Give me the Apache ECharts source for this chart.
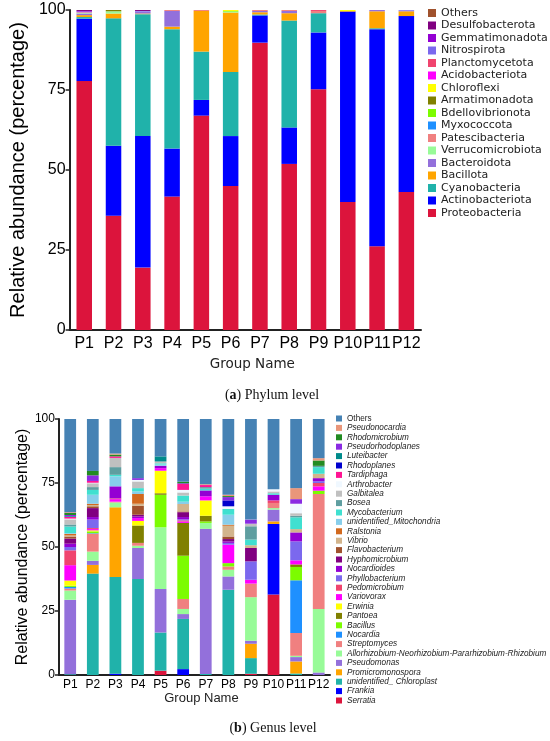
<!DOCTYPE html>
<html>
<head>
<meta charset="utf-8">
<script src="https://cdn.jsdelivr.net/npm/echarts@6/dist/echarts.min.js"></script>
<style>
html,body{margin:0;padding:0;background:#fff;}
#main{width:550px;height:741px;}
</style>
</head>
<body>
<div id="main"></div>
<script>
var groups = ['P1','P2','P3','P4','P5','P6','P7','P8','P9','P10','P11','P12'];
var yTicks = [0, 25, 50, 75, 100];

// phylum level, P1..P12 (percentage)
var proteobacteria    = [77.8,35.7,19.5,41.7,67.0,45.0,89.8,51.9,75.2,40.0,26.2,43.1];
var actinobacteriota  = [19.5,21.9,41.1,15.0,4.9,15.6,8.5,11.4,17.8,59.5,67.8,55.0];
var cyanobacteria     = [0.5,39.8,38.1,37.3,15.1,20.0,0.3,33.4,6.0,0,0.3,0];
var bacillota         = [0.6,1.5,0.2,0.8,12.7,18.6,0.7,2.3,0,0.2,5.3,1.5];
var bacteroidota      = [0.5,0,0.6,4.9,0,0,0.4,0.7,0,0,0.4,0.2];
var verrucomicrobiota = [0.2,0.7,0,0,0,0.3,0,0,0,0,0,0];
var patescibacteria   = [0.2,0,0,0.3,0.3,0,0.3,0.3,0.7,0,0,0];
var myxococcota       = [0,0,0,0,0,0,0,0,0,0,0,0];
var bdellovibrionota  = [0,0,0,0,0,0.2,0,0,0,0,0,0];
var armatimonadota    = [0,0.4,0,0,0,0,0,0,0,0,0,0];
var chloroflexi       = [0,0,0,0,0,0.3,0,0,0,0.3,0,0];
var acidobacteriota   = [0,0,0,0,0,0,0,0,0,0,0,0];
var planctomycetota   = [0,0,0,0,0,0,0,0,0.3,0,0,0];
var nitrospirota      = [0.2,0,0.2,0,0,0,0,0,0,0,0,0.2];
var gemmatimonadota   = [0.2,0,0,0,0,0,0,0,0,0,0,0];
var desulfobacterota  = [0.3,0,0.3,0,0,0,0,0,0,0,0,0];
var phylumOthers      = [0,0,0,0,0,0,0,0,0,0,0,0];

var phylumNames = ['Proteobacteria','Actinobacteriota','Cyanobacteria','Bacillota','Bacteroidota',
  'Verrucomicrobiota','Patescibacteria','Myxococcota','Bdellovibrionota','Armatimonadota','Chloroflexi',
  'Acidobacteriota','Planctomycetota','Nitrospirota','Gemmatimonadota','Desulfobacterota','Others'];
var phylumColors = ['#DC143C','#0000FF','#20B2AA','#FFA500','#9370DB','#98FB98','#F08080','#1E90FF',
  '#7CFC00','#808000','#FFFF00','#FF00FF','#F0446E','#7B68EE','#9400D3','#800080','#A0522D'];
var phylumData = [proteobacteria,actinobacteriota,cyanobacteria,bacillota,bacteroidota,verrucomicrobiota,
  patescibacteria,myxococcota,bdellovibrionota,armatimonadota,chloroflexi,acidobacteriota,planctomycetota,
  nitrospirota,gemmatimonadota,desulfobacterota,phylumOthers];

// genus level, P1..P12 (percentage)
var serratia          = [0,0,0,0,1.7,0,0,0,0.5,31.4,0,0];
var frankia           = [0,0,0.5,0,0,2.3,0,0,0,27.6,0,0];
var chloroplast       = [0.3,39.6,37.8,37.5,14.9,19.6,0.4,33.3,6.1,0,0.6,0];
var promicromonospora = [0,3.4,27.2,0,0,0,0,0,5.6,1.0,4.7,0];
var pseudomonas       = [29.1,1.6,0,12.1,17.0,1.9,56.7,5.2,1.2,4.6,1.7,1.0];
var allorhizobium     = [3.6,3.6,1.9,0.9,24.1,2.0,2.3,2.6,17.0,0.6,0.5,24.8];
var streptomyces      = [0.8,7.0,0.3,1.1,0,3.9,0,1.3,5.3,2.0,8.9,44.9];
var nocardia          = [0.6,0.2,0,0,0,0,0,0,0,0,20.6,0];
var bacillus          = [0.5,0.7,0,0,12.7,16.9,0.6,1.3,0,0,5.2,1.3];
var pantoea           = [0,0,0,6.8,0.6,12.8,2.2,0,0,0,1.0,0];
var erwinia           = [2.0,0.4,0,1.8,8.8,0,6.0,0,0,0,0,0];
var variovorax        = [6.0,0.5,1.0,1.1,1.0,0.6,1.6,7.2,1.5,0,1.6,1.7];
var pedomicrobium     = [5.8,0.4,0.3,0,0,0.4,0,0,0,1.0,0,1.3];
var phyllobacterium   = [1.3,3.3,0,0,0,0.4,0,0.7,7.2,0,7.4,0.7];
var nocardioides      = [1.3,1.0,4.7,0.6,0.9,0.9,2.3,0.6,0,2.2,3.5,1.2];
var hyphomicrobium    = [2.0,3.5,0,0.7,0,1.9,0,0.9,5.2,0,0,0];
var flavobacterium    = [0.8,0.7,0,3.5,0,0.3,0,1.0,0,0,0,0];
var vibrio            = [0.4,0.5,0,0.8,0,2.9,0,4.2,1.1,0,1.3,1.7];
var ralstonia         = [0.6,0.5,0,3.8,0,0,0,0.4,0,0,0,0];
var mitochondria      = [0.3,3.5,3.9,1.0,0.5,0.9,0,3.9,0,0,0,0];
var mycobacterium     = [2.6,1.9,0.6,1.3,0.5,2.4,0.7,2.3,2.2,0.6,4.6,2.6];
var bosea             = [0.8,1.1,3.0,0,0,0,0.6,0,5.2,0,0.6,0.5];
var galbitalea        = [2.0,1.5,3.6,2.6,0.7,1.2,0,0,1.0,0.7,1.0,0];
var arthrobacter      = [0.3,0.2,0,0.6,0,1.0,0,1.0,0,0.9,3.7,0];
var tardiphaga        = [0.7,0.7,0.6,0,0,2.3,0.8,0,0,0,0,0];
var rhodoplanes       = [0,0,0,0,0,0,0,2.3,0,0,0,0];
var luteibacter       = [0.3,0,0,0,2.0,0,0,0,0,0,0,0];
var pseudorhodoplanes = [0.4,2.2,0,0.7,0,0.3,0,1.3,1.6,0,1.8,0];
var rhodomicrobium    = [0.8,1.7,0.7,0,0,0.6,0,0.4,0,0,0,2.1];
var pseudonocardia    = [0.3,0,0.4,0,0,0,0.3,0.5,0,0,4.3,0.9];
var genusOthers       = [36.4,20.3,13.5,23.1,14.6,24.5,25.5,29.6,39.3,27.4,27.0,15.3];

var genusNames = ['Serratia','Frankia','unidentified_ Chloroplast','Promicromonospora','Pseudomonas',
  'Allorhizobium-Neorhizobium-Pararhizobium-Rhizobium','Streptomyces','Nocardia','Bacillus','Pantoea',
  'Erwinia','Variovorax','Pedomicrobium','Phyllobacterium','Nocardioides','Hyphomicrobium','Flavobacterium',
  'Vibrio','Ralstonia','unidentified_Mitochondria','Mycobacterium','Bosea','Galbitalea','Arthrobacter',
  'Tardiphaga','Rhodoplanes','Luteibacter','Pseudorhodoplanes','Rhodomicrobium','Pseudonocardia','Others '];
var genusColors = ['#DC143C','#0000FF','#20B2AA','#FFA500','#9370DB','#98FB98','#F08080','#1E90FF',
  '#7CFC00','#808000','#FFFF00','#FF00FF','#F0446E','#7B68EE','#9400D3','#800080','#A0522D','#D2B48C',
  '#D2691E','#87CEEB','#40E0D0','#5F9EA0','#C0C0C0','#F0F8FF','#FF1493','#0000CD','#008B8B','#8A2BE2',
  '#228B22','#E9967A','#4682B4'];
var genusData = [serratia,frankia,chloroplast,promicromonospora,pseudomonas,allorhizobium,streptomyces,
  nocardia,bacillus,pantoea,erwinia,variovorax,pedomicrobium,phyllobacterium,nocardioides,hyphomicrobium,
  flavobacterium,vibrio,ralstonia,mitochondria,mycobacterium,bosea,galbitalea,arthrobacter,tardiphaga,
  rhodoplanes,luteibacter,pseudorhodoplanes,rhodomicrobium,pseudonocardia,genusOthers];

var series = [];
for (var i = 0; i < phylumNames.length; i++) {
  series.push({
    name: phylumNames[i], type: 'bar', stack: 'phylum', xAxisIndex: 0, yAxisIndex: 0,
    barWidth: '53%', data: phylumData[i], itemStyle: { color: phylumColors[i] }
  });
}
for (var j = 0; j < genusNames.length; j++) {
  series.push({
    name: genusNames[j], type: 'bar', stack: 'genus', xAxisIndex: 1, yAxisIndex: 1,
    barWidth: '52%', data: genusData[j], itemStyle: { color: genusColors[j] }
  });
}

function xAx(idx, fs, margin, nameFs, nameGap, nameFont) {
  return {
    type: 'category', gridIndex: idx, data: groups,
    axisLine: { lineStyle: { color: '#222', width: 2 } },
    axisTick: { length: 4, lineStyle: { color: '#222', width: 1.5 } },
    axisLabel: { color: '#000', fontSize: fs, margin: margin, fontFamily: 'Liberation Sans', interval: 0 },
    name: 'Group Name', nameLocation: 'middle', nameGap: nameGap,
    nameTextStyle: { color: '#222', fontSize: nameFs, fontFamily: nameFont, padding: [0, 0, 0, 14] }
  };
}
function yAx(idx, fs, nameFs, nameGap) {
  return {
    type: 'value', gridIndex: idx, min: yTicks[0], max: yTicks[yTicks.length - 1], interval: 25,
    axisLine: { show: true, lineStyle: { color: '#222', width: 2 } },
    axisTick: { show: true, length: 4, lineStyle: { color: '#222', width: 1.5 } },
    splitLine: { show: false },
    axisLabel: { color: '#000', fontSize: fs, margin: 4, fontFamily: 'Liberation Sans' },
    name: 'Relative abundance (percentage)', nameLocation: 'middle', nameGap: nameGap,
    nameTextStyle: { color: '#000', fontSize: nameFs, fontFamily: 'Liberation Sans' }
  };
}

var chart = echarts.init(document.getElementById('main'));
chart.setOption({
  animation: false,
  backgroundColor: '#fff',
  grid: [
    { left: 60, top: 10, width: 361, height: 320 },
    { left: 42, top: 419, width: 288, height: 256 }
  ],
  xAxis: [ xAx(0, 16, 6, 13.5, 27, 'DejaVu Sans'), xAx(1, 12, 4, 13, 15, 'Liberation Sans') ],
  yAxis: [ yAx(0, 16, 20, 39), yAx(1, 12, 16, 27) ],
  legend: [
    {
      orient: 'vertical', left: 428, top: 7, padding: 0, icon: 'rect',
      itemWidth: 8, itemHeight: 8, itemGap: 0.5, selectedMode: false,
      data: phylumNames.slice().reverse(),
      textStyle: { fontFamily: 'DejaVu Sans', fontSize: 11, lineHeight: 12, color: '#222' }
    },
    {
      orient: 'vertical', left: 336, top: 414, padding: 0, icon: 'rect',
      itemWidth: 6, itemHeight: 6, itemGap: 0.4, selectedMode: false,
      data: genusNames.slice().reverse(),
      formatter: function (n) { return n === 'Others ' ? 'Others' : '{i|' + n + '}'; },
      textStyle: {
        fontFamily: 'Liberation Sans', fontSize: 8.2, lineHeight: 9, color: '#222',
        rich: { i: { fontStyle: 'italic', fontFamily: 'Liberation Sans', fontSize: 8.2, lineHeight: 9, color: '#222' } }
      }
    }
  ],
  graphic: [
    { type: 'text', x: 272, y: 395, style: {
        text: '({b|a}) Phylum level', align: 'center', verticalAlign: 'middle',
        font: '14px "Liberation Serif"', fill: '#111',
        rich: { b: { fontWeight: 'bold', fontFamily: 'Liberation Serif', fontSize: 14, fill: '#111' } } } },
    { type: 'text', x: 273, y: 728, style: {
        text: '({b|b}) Genus level', align: 'center', verticalAlign: 'middle',
        font: '14px "Liberation Serif"', fill: '#111',
        rich: { b: { fontWeight: 'bold', fontFamily: 'Liberation Serif', fontSize: 14, fill: '#111' } } } }
  ],
  series: series
});
</script>
</body>
</html>
